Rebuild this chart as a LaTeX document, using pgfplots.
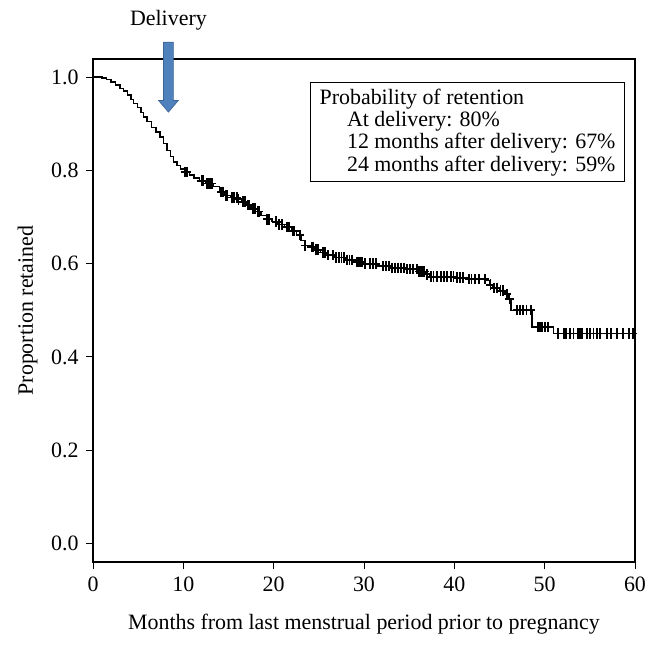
\documentclass[border=0pt]{standalone}
\usepackage{pgfplots}
\pgfplotsset{compat=1.18}
\usepackage{fontspec}
\setmainfont{Liberation Serif}
\definecolor{arrowblue}{RGB}{79,129,189}
\definecolor{arrowedge}{RGB}{60,100,150}
\newcommand{\fs}{\fontsize{22}{22.4}\selectfont}
\begin{document}
\fs
\begin{tikzpicture}[x=1bp,y=1bp]
\begin{axis}[
  scale only axis, width=542bp, height=503bp,
  xmin=0, xmax=60, ymin=-0.04, ymax=1.039,
  xtick={0,10,...,60}, ytick={0,0.2,...,1.0},
  yticklabel style={/pgf/number format/.cd,fixed,fixed zerofill,precision=1},
  /pgf/number format/assume math mode=true,
  tick align=outside, tick pos=left, major tick length=7bp,
  axis line style={line width=1.2pt}, tick style={black, line width=1pt},
  xlabel={Months from last menstrual period prior to pregnancy},
  ylabel={Proportion retained},
  ticklabel style={font=\fs},
  label style={font=\fs},
  xlabel style={at={(rel axis cs:0.5,0)}, anchor=base, yshift=-67bp},
  ylabel style={at={(rel axis cs:0,0.5)}, anchor=base, yshift=60bp},
  clip=false,
]
\addplot[const plot, black, line width=1.5pt] coordinates {
(0,1.0) (1.0,0.998) (1.5,0.995) (2.0,0.99) (2.5,0.983) (3.0,0.976) (3.4,0.970) (3.8,0.962)
(4.2,0.952) (4.5,0.944) (4.9,0.935) (5.3,0.924) (5.6,0.915) (6.0,0.905) (6.5,0.892) (7.0,0.882)
(7.4,0.872) (7.8,0.858) (8.2,0.843) (8.6,0.83) (8.9,0.818) (9.3,0.81) (9.7,0.803) (10.2,0.797)
(10.7,0.79) (11.2,0.784) (11.8,0.778) (12.5,0.772) (13.3,0.765) (14.0,0.754) (14.6,0.746)
(15.2,0.742) (16.0,0.738) (16.5,0.733) (17.0,0.726) (17.5,0.718) (18.0,0.712) (18.6,0.703)
(19.2,0.695) (19.8,0.69) (20.5,0.684) (21.2,0.678) (22.0,0.670) (22.5,0.662) (23.0,0.650)
(23.4,0.639) (24.0,0.636) (24.6,0.630) (25.2,0.624) (25.9,0.618) (26.8,0.613) (28.0,0.608)
(29.0,0.604) (30.0,0.600) (31.5,0.595) (33.0,0.591) (34.5,0.588) (36.0,0.583) (36.8,0.577)
(37.3,0.572) (40.0,0.570) (41.5,0.567) (43.6,0.564) (43.9,0.555) (44.2,0.548) (45.0,0.542)
(45.6,0.535) (46.0,0.525) (46.3,0.500) (48.6,0.464) (51.0,0.450) (60,0.45)
};
\addplot[only marks, mark=+, mark size=5.2bp, black, mark options={line width=1.8pt, xscale=0.8}] coordinates {
(10.2,0.797) (10.4,0.797) (12.0,0.778) (12.2,0.778)
(12.6,0.772) (12.8,0.772) (13.0,0.772) (13.2,0.772)
(14.2,0.754) (14.4,0.754) (14.7,0.746) (14.9,0.746)
(15.4,0.742) (15.6,0.742) (15.9,0.742) (16.1,0.738)
(16.6,0.733) (16.8,0.733) (17.1,0.726) (17.3,0.726)
(17.7,0.718) (17.9,0.718) (18.2,0.712) (18.4,0.712)
(19.3,0.695) (19.5,0.695)
(20.3,0.69) (20.6,0.684) (20.9,0.684)
(21.5,0.678) (21.7,0.678) (22.1,0.670) (22.3,0.670)
(22.9,0.662) (23.5,0.639)
(24.2,0.636) (24.4,0.636) (24.7,0.630) (24.9,0.630)
(25.5,0.624) (25.7,0.624) (26.0,0.618)
(26.6,0.618) (26.9,0.613) (27.2,0.613) (27.5,0.613) (27.8,0.613) (28.1,0.608) (28.4,0.608) (28.7,0.608)
(29.2,0.604) (29.4,0.604) (29.6,0.604) (29.8,0.604) (30.1,0.600)
(30.7,0.600) (31.0,0.600) (31.3,0.600)
(32.1,0.595) (32.4,0.595) (32.8,0.595) (33.1,0.591) (33.4,0.591) (33.8,0.591) (34.1,0.591) (34.4,0.591) (34.8,0.588)
(35.1,0.588) (35.4,0.588)
(35.9,0.588) (36.1,0.583) (36.3,0.583) (36.5,0.583) (36.7,0.583) (37.0,0.577)
(37.4,0.572) (37.7,0.572) (38.1,0.572) (38.5,0.572) (38.9,0.572) (39.2,0.572) (39.6,0.572) (39.9,0.572)
(40.3,0.570) (40.6,0.570) (41.0,0.570)
(41.6,0.567) (41.9,0.567) (42.3,0.567) (42.7,0.567)
(43.4,0.567) (44.0,0.555) (44.4,0.548) (44.7,0.548) (45.1,0.542) (45.4,0.542) (45.8,0.535) (46.1,0.525)
(46.9,0.5) (47.3,0.5) (47.6,0.5) (48.0,0.5) (48.5,0.5)
(49.3,0.464) (49.5,0.464) (49.7,0.464) (50.0,0.464) (50.4,0.464)
(51.5,0.45) (52.1,0.45) (52.4,0.45) (52.8,0.45) (53.2,0.45) (53.7,0.45) (53.9,0.45) (54.1,0.45)
(54.7,0.45) (55.0,0.45) (55.4,0.45) (55.8,0.45) (56.1,0.45) (56.9,0.45) (57.3,0.45) (58.0,0.45)
(58.7,0.45) (59.3,0.45) (59.8,0.45)
};
% Delivery arrow
\fill[arrowblue, draw=arrowedge, line width=0.6pt]
  (axis cs:7.8,1.075) -- (axis cs:8.9,1.075) -- (axis cs:8.9,0.950)
  -- (axis cs:9.45,0.950) -- (axis cs:8.35,0.925) -- (axis cs:7.25,0.950)
  -- (axis cs:7.8,0.950) -- cycle;
\node[font=\fs] at (axis cs:8.35,1.122) {Delivery};
% Legend box
\node[draw, line width=1pt, anchor=north east, align=left, inner xsep=9bp, inner ysep=6bp,
      font=\fs]
  at (rel axis cs:0.9815,0.954) {%
  Probability of retention\\
  \hspace*{1.25em}At delivery: 80\%\\
  \hspace*{1.25em}12 months after delivery: 67\%\\
  \hspace*{1.25em}24 months after delivery: 59\%};
% page frame
\path (rel axis cs:0,0) ++(-93bp,-85bp) rectangle ++(658bp,647bp);
\end{axis}
\end{tikzpicture}
\end{document}
